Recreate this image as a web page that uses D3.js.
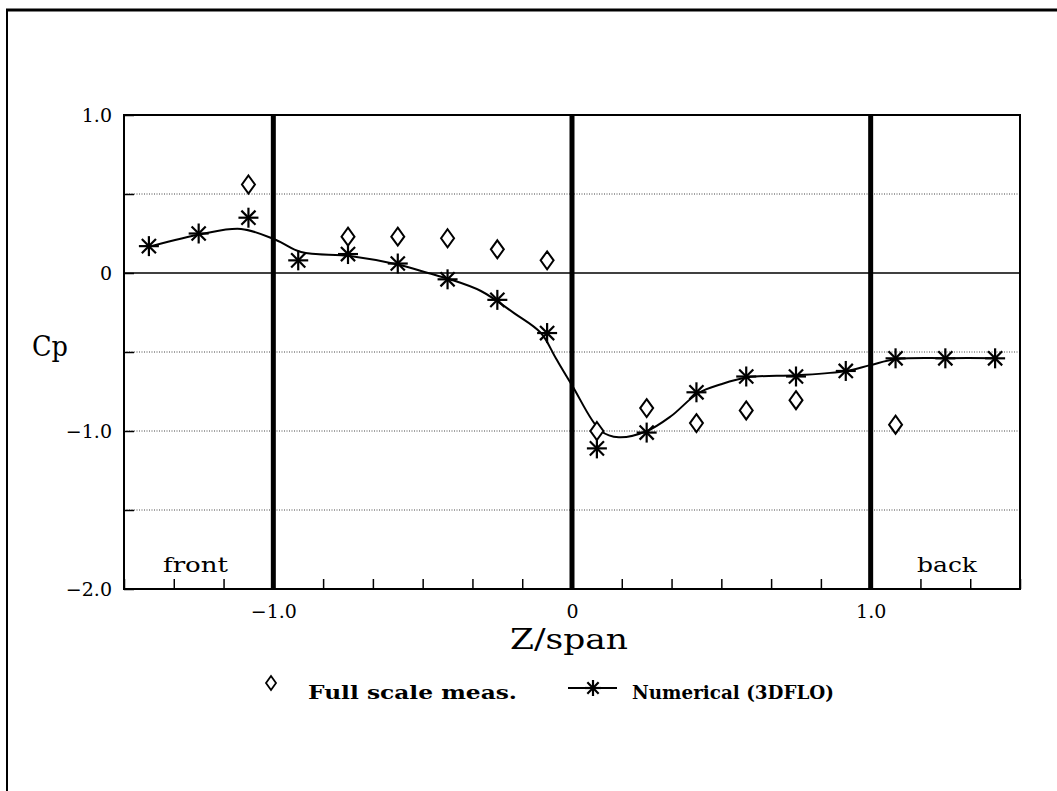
<!DOCTYPE html>
<html><head><meta charset="utf-8">
<script src="https://cdn.jsdelivr.net/npm/d3@7/dist/d3.min.js"></script>
<style>body{margin:0;background:#fff}svg{display:block}</style>
</head><body>
<svg id="c" width="1057" height="791"></svg>
<script>
// ---- data ----
const numZ = [-17/12,-15/12,-13/12,-11/12,-9/12,-7/12,-5/12,-3/12,-1/12,1/12,3/12,5/12,7/12,9/12,11/12,13/12,15/12,17/12];
const numCp = [0.17,0.25,0.35,0.08,0.12,0.06,-0.04,-0.17,-0.38,-1.11,-1.01,-0.755,-0.655,-0.655,-0.62,-0.54,-0.54,-0.54];
const measZ = [-13/12,-9/12,-7/12,-5/12,-3/12,-1/12,1/12,3/12,5/12,7/12,9/12,13/12];
const measCp = [0.56,0.23,0.23,0.22,0.15,0.08,-1.0,-0.855,-0.95,-0.87,-0.805,-0.96];
// smooth numerical curve
const curveZ = [-1.406,-1.239,-1.108,-0.991,-0.907,-0.743,-0.576,-0.482,-0.412,-0.305,-0.194,-0.104,-0.054,0,0.097,0.157,0.251,0.331,0.422,0.499,0.589,0.753,0.917,0.998,1.088,1.255,1.426];
const curveCp = [0.171,0.247,0.279,0.209,0.133,0.108,0.051,0,-0.038,-0.114,-0.254,-0.38,-0.54,-0.71,-1.0,-1.04,-1.0,-0.907,-0.761,-0.704,-0.66,-0.647,-0.621,-0.583,-0.545,-0.539,-0.539];
const xTicks = d3.range(-9,10).map(k=>k/6);
const xLabels = {"-1":"\u22121.0","0":"0","1":"1.0"};
const yTicks = [-2,-1.5,-1,-0.5,0,0.5,1];
const yLabels = {"-2":"\u22122.0","-1":"\u22121.0","0":"0","1":"1.0"};
const gridY = [0.5,-0.5,-1,-1.5];
const thickX = [-1,0,1];

// ---- chart ----
const svg = d3.select("#c");
const font = "'DejaVu Serif', serif";
const x = d3.scaleLinear().domain([-1.5,1.5]).range([124,1020]);
const y = d3.scaleLinear().domain([-2,1]).range([589,115]);

// outer frame
svg.append("line").attr("x1",6).attr("x2",1057).attr("y1",10).attr("y2",10).attr("stroke","#000").attr("stroke-width",3);
svg.append("line").attr("x1",7).attr("x2",7).attr("y1",10).attr("y2",791).attr("stroke","#000").attr("stroke-width",2);

// grid
svg.selectAll(".g").data(gridY).enter().append("line")
  .attr("x1",x(-1.5)).attr("x2",x(1.5)).attr("y1",d=>y(d)).attr("y2",d=>y(d))
  .attr("stroke","#444").attr("stroke-width",1).attr("stroke-dasharray","1,1.5");
svg.append("line").attr("x1",x(-1.5)).attr("x2",x(1.5)).attr("y1",y(0)).attr("y2",y(0))
  .attr("stroke","#000").attr("stroke-width",1.5);

// axes
const xa = svg.append("g").attr("transform",`translate(0,${y(-2)})`)
  .call(d3.axisBottom(x).tickValues(xTicks).tickSizeInner(-10).tickSizeOuter(0).tickPadding(16)
    .tickFormat(d=>{const r=Math.round(d); return Math.abs(d-r)<1e-9 && xLabels[String(r)]!==undefined ? xLabels[String(r)] : "";}));
const ya = svg.append("g").attr("transform",`translate(${x(-1.5)},0)`)
  .call(d3.axisLeft(y).tickValues(yTicks).tickSizeInner(-10).tickSizeOuter(0).tickPadding(12)
    .tickFormat(d=>yLabels[String(d)]||""));
[xa,ya].forEach(a=>{
  a.select(".domain").remove();
  a.selectAll(".tick line").attr("stroke","#000").attr("stroke-width",1.5);
  a.selectAll("text").attr("font-family",font).attr("font-size",19).attr("fill","#000");
});

// plot frame
svg.append("rect").attr("x",x(-1.5)).attr("y",y(1)).attr("width",x(1.5)-x(-1.5)).attr("height",y(-2)-y(1))
  .attr("fill","none").attr("stroke","#000").attr("stroke-width",2);

// thick verticals
svg.selectAll(".tv").data(thickX).enter().append("line")
  .attr("x1",d=>x(d)).attr("x2",d=>x(d)).attr("y1",y(1)).attr("y2",y(-2))
  .attr("stroke","#000").attr("stroke-width",5);

// curve
const curveData = curveZ.map((z,i)=>[z,curveCp[i]]);
svg.append("path").datum(curveData)
  .attr("d",d3.line().x(d=>x(d[0])).y(d=>y(d[1])).curve(d3.curveCatmullRom.alpha(0.5)))
  .attr("fill","none").attr("stroke","#000").attr("stroke-width",2);

// markers
function star(g,cx,cy,r){
  [0,45,90,135].forEach(t=>{
    const rad=t*Math.PI/180;
    g.append("line").attr("x1",cx-r*Math.cos(rad)).attr("y1",cy-r*Math.sin(rad))
      .attr("x2",cx+r*Math.cos(rad)).attr("y2",cy+r*Math.sin(rad))
      .attr("stroke","#000").attr("stroke-width",2.2);
  });
}
function diamond(g,cx,cy){
  g.append("path").attr("d",`M${cx},${cy-9}L${cx+6.5},${cy}L${cx},${cy+9}L${cx-6.5},${cy}Z`)
    .attr("fill","#fff").attr("stroke","#000").attr("stroke-width",2);
}
const mk = svg.append("g");
numZ.forEach((z,i)=>star(mk,x(z),y(numCp[i]),10));
measZ.forEach((z,i)=>diamond(mk,x(z),y(measCp[i])));

// texts
function txt(xp,yp,s,size,len,bold){
  const t = svg.append("text").attr("x",xp).attr("y",yp).attr("font-family",font).attr("font-size",size).text(s);
  if(len){t.attr("textLength",len).attr("lengthAdjust","spacingAndGlyphs");}
  if(bold){t.attr("font-weight","bold");}
  return t;
}
txt(32,356,"Cp",28,36);
txt(510,649,"Z/span",27,118);
txt(163,572,"front",21,65);
txt(917,572,"back",21,60);

// legend
const lg = svg.append("g");
lg.append("path").attr("d","M271,676L276,683L271,690L266,683Z").attr("fill","#fff").attr("stroke","#000").attr("stroke-width",1.8);
txt(308,699,"Full scale meas.",19,209,true);
lg.append("line").attr("x1",568).attr("x2",617).attr("y1",688).attr("y2",688).attr("stroke","#000").attr("stroke-width",1.8);
star(lg,593,688,8);
txt(632,699,"Numerical (3DFLO)",19,202,true);
</script>
</body></html>
